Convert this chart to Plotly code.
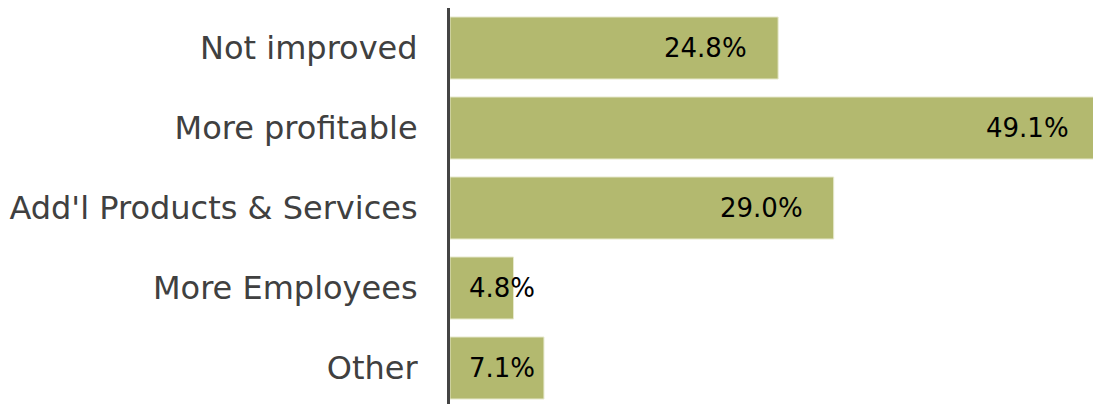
import plotly.graph_objects as go

categories = ["Not improved", "More profitable", "Add'l Products & Services", "More Employees", "Other"]
values = [24.8, 49.1, 29.0, 4.8, 7.1]
labels = ["24.8%", "49.1%", "29.0%", "4.8%", "7.1%"]

X_MAX = 48.6

fig = go.Figure()
fig.add_trace(go.Bar(
    y=categories, x=values, orientation="h",
    marker=dict(color="#b3b96f", line=dict(color="#e6e8cc", width=1)),
    hoverinfo="skip",
))

annotations = []
for c, v, t in zip(categories, values, labels):
    font = dict(family="DejaVu Sans", size=26, color="#000000")
    if v < 10:
        annotations.append(dict(x=0, y=c, text=t, showarrow=False, xanchor="left",
                                xshift=17, font=font))
    elif v > X_MAX:
        annotations.append(dict(x=X_MAX, y=c, text=t, showarrow=False, xanchor="right",
                                xshift=-22, font=font))
    else:
        annotations.append(dict(x=v, y=c, text=t, showarrow=False, xanchor="right",
                                xshift=-29, font=font))

fig.update_layout(
    width=1093, height=404,
    margin=dict(l=450, r=0, t=8, b=0, pad=0),
    paper_bgcolor="white", plot_bgcolor="white",
    bargap=0.225,
    showlegend=False,
    annotations=annotations,
    xaxis=dict(range=[0, X_MAX], visible=False, fixedrange=True),
    yaxis=dict(
        categoryorder="array", categoryarray=categories,
        range=[4.45, -0.5], fixedrange=True,
        showline=True, linecolor="#444444", linewidth=3,
        showgrid=False, zeroline=False,
        ticks="outside", ticklen=23, tickcolor="rgba(0,0,0,0)",
        tickfont=dict(family="DejaVu Sans", size=32, color="#404040"),
    ),
)
fig.write_html(
    "out.html",
    config={"displayModeBar": False, "staticPlot": True},
    post_script="document.body.style.margin='0px';document.body.style.overflow='hidden';",
)
